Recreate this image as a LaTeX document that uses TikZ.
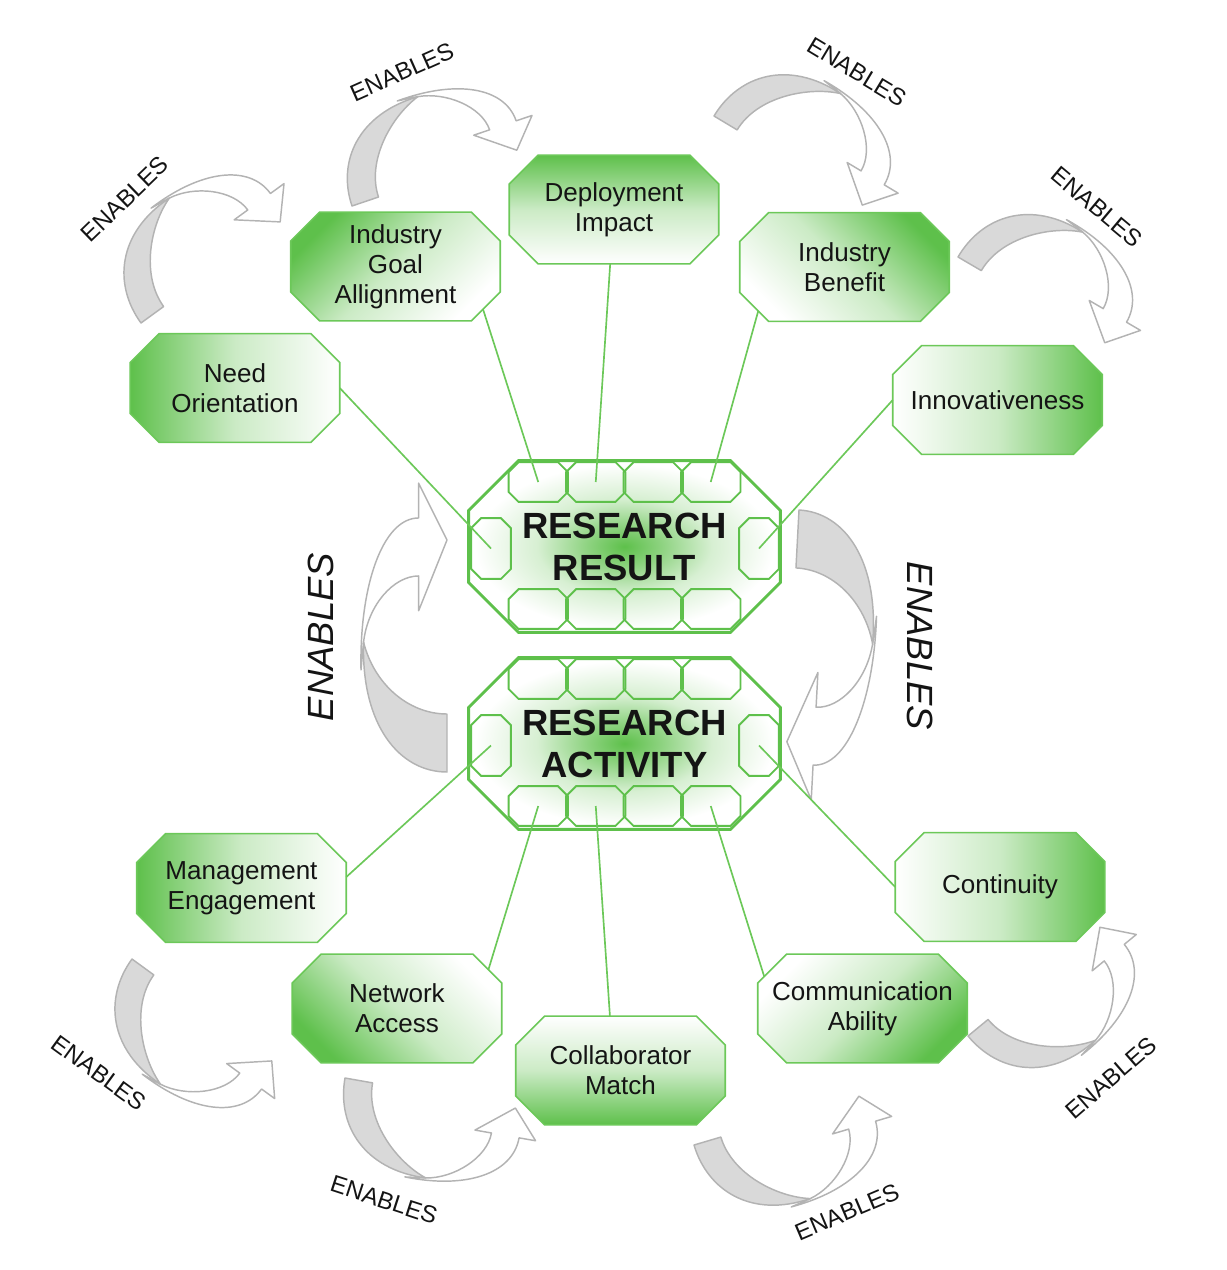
\documentclass[tikz,border=0pt]{standalone}
\usepackage{fontspec}
\setmainfont{Liberation Sans}
\usetikzlibrary{calc}
\definecolor{leaf}{HTML}{5EC04B}
\definecolor{leafline}{HTML}{6CC859}
\definecolor{bendgray}{HTML}{D9D9D9}
\definecolor{bendline}{HTML}{B3B3B3}
\definecolor{ink}{HTML}{141414}
\pgfdeclareradialshading{coreglow}{\pgfpoint{0bp}{0bp}}{color(0bp)=(leaf); color(6bp)=(leaf!70!white); color(14bp)=(leaf!25!white); color(24bp)=(white); color(50bp)=(white)}
% octagon with a fixed corner cut
\makeatletter
\pgfkeys{/pgf/octbox cut/.initial=5pt}
\pgfdeclareshape{octbox}{%
  \inheritsavedanchors[from=rectangle]%
  \inheritanchor[from=rectangle]{center}%
  \inheritanchor[from=rectangle]{text}%
  \inheritanchor[from=rectangle]{mid}%
  \inheritanchor[from=rectangle]{base}%
  \inheritanchor[from=rectangle]{north}%
  \inheritanchor[from=rectangle]{south}%
  \inheritanchor[from=rectangle]{east}%
  \inheritanchor[from=rectangle]{west}%
  \saveddimen\octcut{\pgfmathsetlength\pgf@x{\pgfkeysvalueof{/pgf/octbox cut}}}%
  \backgroundpath{%
    \southwest\edef\oct@lx{\the\pgf@x}\edef\oct@ly{\the\pgf@y}%
    \northeast\edef\oct@rx{\the\pgf@x}\edef\oct@ry{\the\pgf@y}%
    \pgfpathmoveto{\pgfpoint{\oct@lx+\octcut}{\oct@ly}}%
    \pgfpathlineto{\pgfpoint{\oct@rx-\octcut}{\oct@ly}}%
    \pgfpathlineto{\pgfpoint{\oct@rx}{\oct@ly+\octcut}}%
    \pgfpathlineto{\pgfpoint{\oct@rx}{\oct@ry-\octcut}}%
    \pgfpathlineto{\pgfpoint{\oct@rx-\octcut}{\oct@ry}}%
    \pgfpathlineto{\pgfpoint{\oct@lx+\octcut}{\oct@ry}}%
    \pgfpathlineto{\pgfpoint{\oct@lx}{\oct@ry-\octcut}}%
    \pgfpathlineto{\pgfpoint{\oct@lx}{\oct@ly+\octcut}}%
    \pgfpathclose
  }%
  \anchorborder{%
    \edef\oct@dx{\the\pgf@x}\edef\oct@dy{\the\pgf@y}%
    \southwest\edef\oct@lx{\the\pgf@x}\edef\oct@ly{\the\pgf@y}%
    \northeast\edef\oct@rx{\the\pgf@x}\edef\oct@ry{\the\pgf@y}%
    \pgfmathsetmacro\oct@hx{(\oct@rx-\oct@lx)/2}%
    \pgfmathsetmacro\oct@hy{(\oct@ry-\oct@ly)/2}%
    \pgfmathsetmacro\oct@ax{max(abs(\oct@dx),0.001)}%
    \pgfmathsetmacro\oct@ay{max(abs(\oct@dy),0.001)}%
    \pgfmathsetmacro\oct@t{min(min(\oct@hx/\oct@ax,\oct@hy/\oct@ay),(\oct@hx+\oct@hy-\octcut)/(\oct@ax+\oct@ay))}%
    \pgfmathsetmacro\oct@px{(\oct@rx+\oct@lx)/2+\oct@t*\oct@dx}%
    \pgfmathsetmacro\oct@py{(\oct@ry+\oct@ly)/2+\oct@t*\oct@dy}%
    \pgf@x=\oct@px pt\relax
    \pgf@y=\oct@py pt\relax
  }%
}
\makeatother
\tikzset{
  petal/.style={octbox,/pgf/octbox cut=13.9pt,inner sep=2pt,minimum width=99.8pt,minimum height=51.4pt,
    draw=leafline,line width=0.8pt,top color=leaf,bottom color=white,middle color=leaf!32!white,
    align=center,text=ink,font=\fontsize{12.5}{14.4}\selectfont},
  core/.style={octbox,/pgf/octbox cut=24pt,inner sep=2pt,minimum width=148.3pt,minimum height=81.1pt,
    draw=leaf,line width=1.4pt,shade,shading=coreglow,align=center,text=ink,
    font=\fontsize{17.5}{20.2}\selectfont\bfseries},
  cell/.style={octbox,/pgf/octbox cut=4.8pt,inner sep=0pt,minimum width=27.6pt,minimum height=18.2pt,
    draw=leaf,line width=0.9pt},
  sidecell/.style={cell,minimum width=18.2pt,minimum height=28.3pt},
  link/.style={draw=leafline,line width=0.8pt},
  tag/.style={font=\fontsize{11.5}{13}\selectfont,text=ink,inner sep=1pt},
  bigtag/.style={font=\fontsize{17.5}{20}\selectfont\itshape,text=ink,inner sep=1pt},
  bendfront/.style={fill=white,draw=bendline,line width=0.7pt,line join=round},
  bendback/.style={fill=bendgray,draw=bendline,line width=0.7pt,line join=round}
}
% #1 placement, #2 length to tip, #3 bulge, #4 band width
\newcommand{\bentarrow}[4]{%
  \begin{scope}[#1]
    \filldraw[bendfront] ({-#3},{-0.44*#2}) .. controls ({-1.02*#3},{-0.8*#2}) and ({-0.75*#3},{-0.97*#2-0.5*#4}) .. ({-0.33*#3},{-0.97*#2-0.5*#4})
      -- ({-0.33*#3},{-0.97*#2-1.1*#4}) -- (0,{-#2}) -- ({-0.33*#3},{-0.97*#2+1.1*#4})
      -- ({-0.33*#3},{-0.97*#2+0.5*#4}) .. controls ({-0.62*#3},{-0.97*#2+0.5*#4}) and ({-0.92*#3},{-0.72*#2}) .. ({-0.97*#3},{-0.56*#2}) -- cycle;
    \filldraw[bendback] (0,0) .. controls ({-0.55*#3},0) and ({-#3},{-0.2*#2}) .. ({-0.97*#3},{-0.56*#2})
      .. controls ({-0.85*#3},{-0.38*#2}) and ({-0.45*#3},{-#4}) .. (0,{-#4}) -- cycle;
  \end{scope}}
\begin{document}
\begin{tikzpicture}[x=0.48pt,y=-0.48pt]
  \useasboundingbox (0,0) rectangle (1226,1270);
  % enables arrows
  \bentarrow{shift={(447,772)}}{232}{86}{58}
  \bentarrow{shift={(799,510)},rotate=177}{232}{83}{58}
  \bentarrow{shift={(141,323)},rotate=-54}{172}{87}{28}
  \bentarrow{shift={(352,206)},rotate=-71.3}{174}{85}{28}
  \bentarrow{shift={(714,116)},rotate=-121}{173}{87}{27}
  \bentarrow{shift={(958,257)},rotate=-120.3}{170}{87}{27}
  \bentarrow{shift={(132,959)},rotate=-126.1,xscale=-1}{173}{87}{27}
  \bentarrow{shift={(345,1078)},rotate=-100,xscale=-1}{173}{87}{28}
  \bentarrow{shift={(694,1145)},rotate=-73.5,xscale=-1}{172}{87}{28}
  \bentarrow{shift={(968,1036)},rotate=-50.5,xscale=-1}{171}{87}{26}

  \node[core] (result) at (624.5,546.5) {RESEARCH\\RESULT};
  \node[core] (activity) at (624.5,743.5) {RESEARCH\\ACTIVITY};
  \foreach \core in {result,activity} {
    \foreach \i/\dx in {1/-86.25,2/-28.75,3/28.75,4/86.25} {
      \node[cell] (\core t\i) at ($(\core.center)+(\dx,-64.5)$) {};
      \node[cell] (\core b\i) at ($(\core.center)+(\dx,62.5)$) {};
    }
    \node[sidecell] (\core l) at ($(\core.center)+(-133.5,2)$) {};
    \node[sidecell] (\core r) at ($(\core.center)+(134.5,2)$) {};
  }

  \node[petal,shading angle=90] (need) at (235,388) {Need\\Orientation};
  \node[petal,shading angle=45] (igoal) at (395.5,266.5) {Industry\\Goal\\Allignment};
  \node[petal,shading angle=0] (deploy) at (614,209.5) {Deployment\\Impact};
  \node[petal,shading angle=-45] (ibenefit) at (844.5,267) {Industry\\Benefit};
  \node[petal,shading angle=-90] (innov) at (997.5,400) {Innovativeness};
  \node[petal,shading angle=90] (mgmt) at (241.5,888) {Management\\Engagement};
  \node[petal,shading angle=135] (network) at (397,1008.5) {Network\\Access};
  \node[petal,shading angle=180] (collab) at (620.5,1070.5) {Collaborator\\Match};
  \node[petal,shading angle=225] (comm) at (862.5,1008.5) {Communication\\Ability};
  \node[petal,shading angle=-90] (cont) at (1000,887) {Continuity};

  \draw[link] (need.east) -- (resultl.center);
  \draw[link] (igoal.-26) -- (resultt1.center);
  \draw[link] (deploy.-94) -- (resultt2.center);
  \draw[link] (ibenefit.-153) -- (resultt4.center);
  \draw[link] (innov.west) -- (resultr.center);
  \draw[link] (mgmt.6) -- (activityl.center);
  \draw[link] (network.23) -- (activityb1.center);
  \draw[link] (collab.101) -- (activityb2.center);
  \draw[link] (comm.162) -- (activityb4.center);
  \draw[link] (cont.west) -- (activityr.center);

  \node[tag,rotate=44] (en1) at (125,199) {ENABLES};
  \node[tag,rotate=24] (en2) at (402,72) {ENABLES};
  \node[tag,rotate=-31] (en3) at (857,72) {ENABLES};
  \node[tag,rotate=-40] (en4) at (1097,207) {ENABLES};
  \node[tag,rotate=-36] (en5) at (99,1073) {ENABLES};
  \node[tag,rotate=-18] (en6) at (384,1200) {ENABLES};
  \node[tag,rotate=23] (en7) at (847,1212) {ENABLES};
  \node[tag,rotate=41] (en8) at (1111,1078) {ENABLES};
  \node[bigtag,rotate=90] (en9) at (321,637) {ENABLES};
  \node[bigtag,rotate=-90] (en10) at (920,646) {ENABLES};
\end{tikzpicture}
\end{document}
